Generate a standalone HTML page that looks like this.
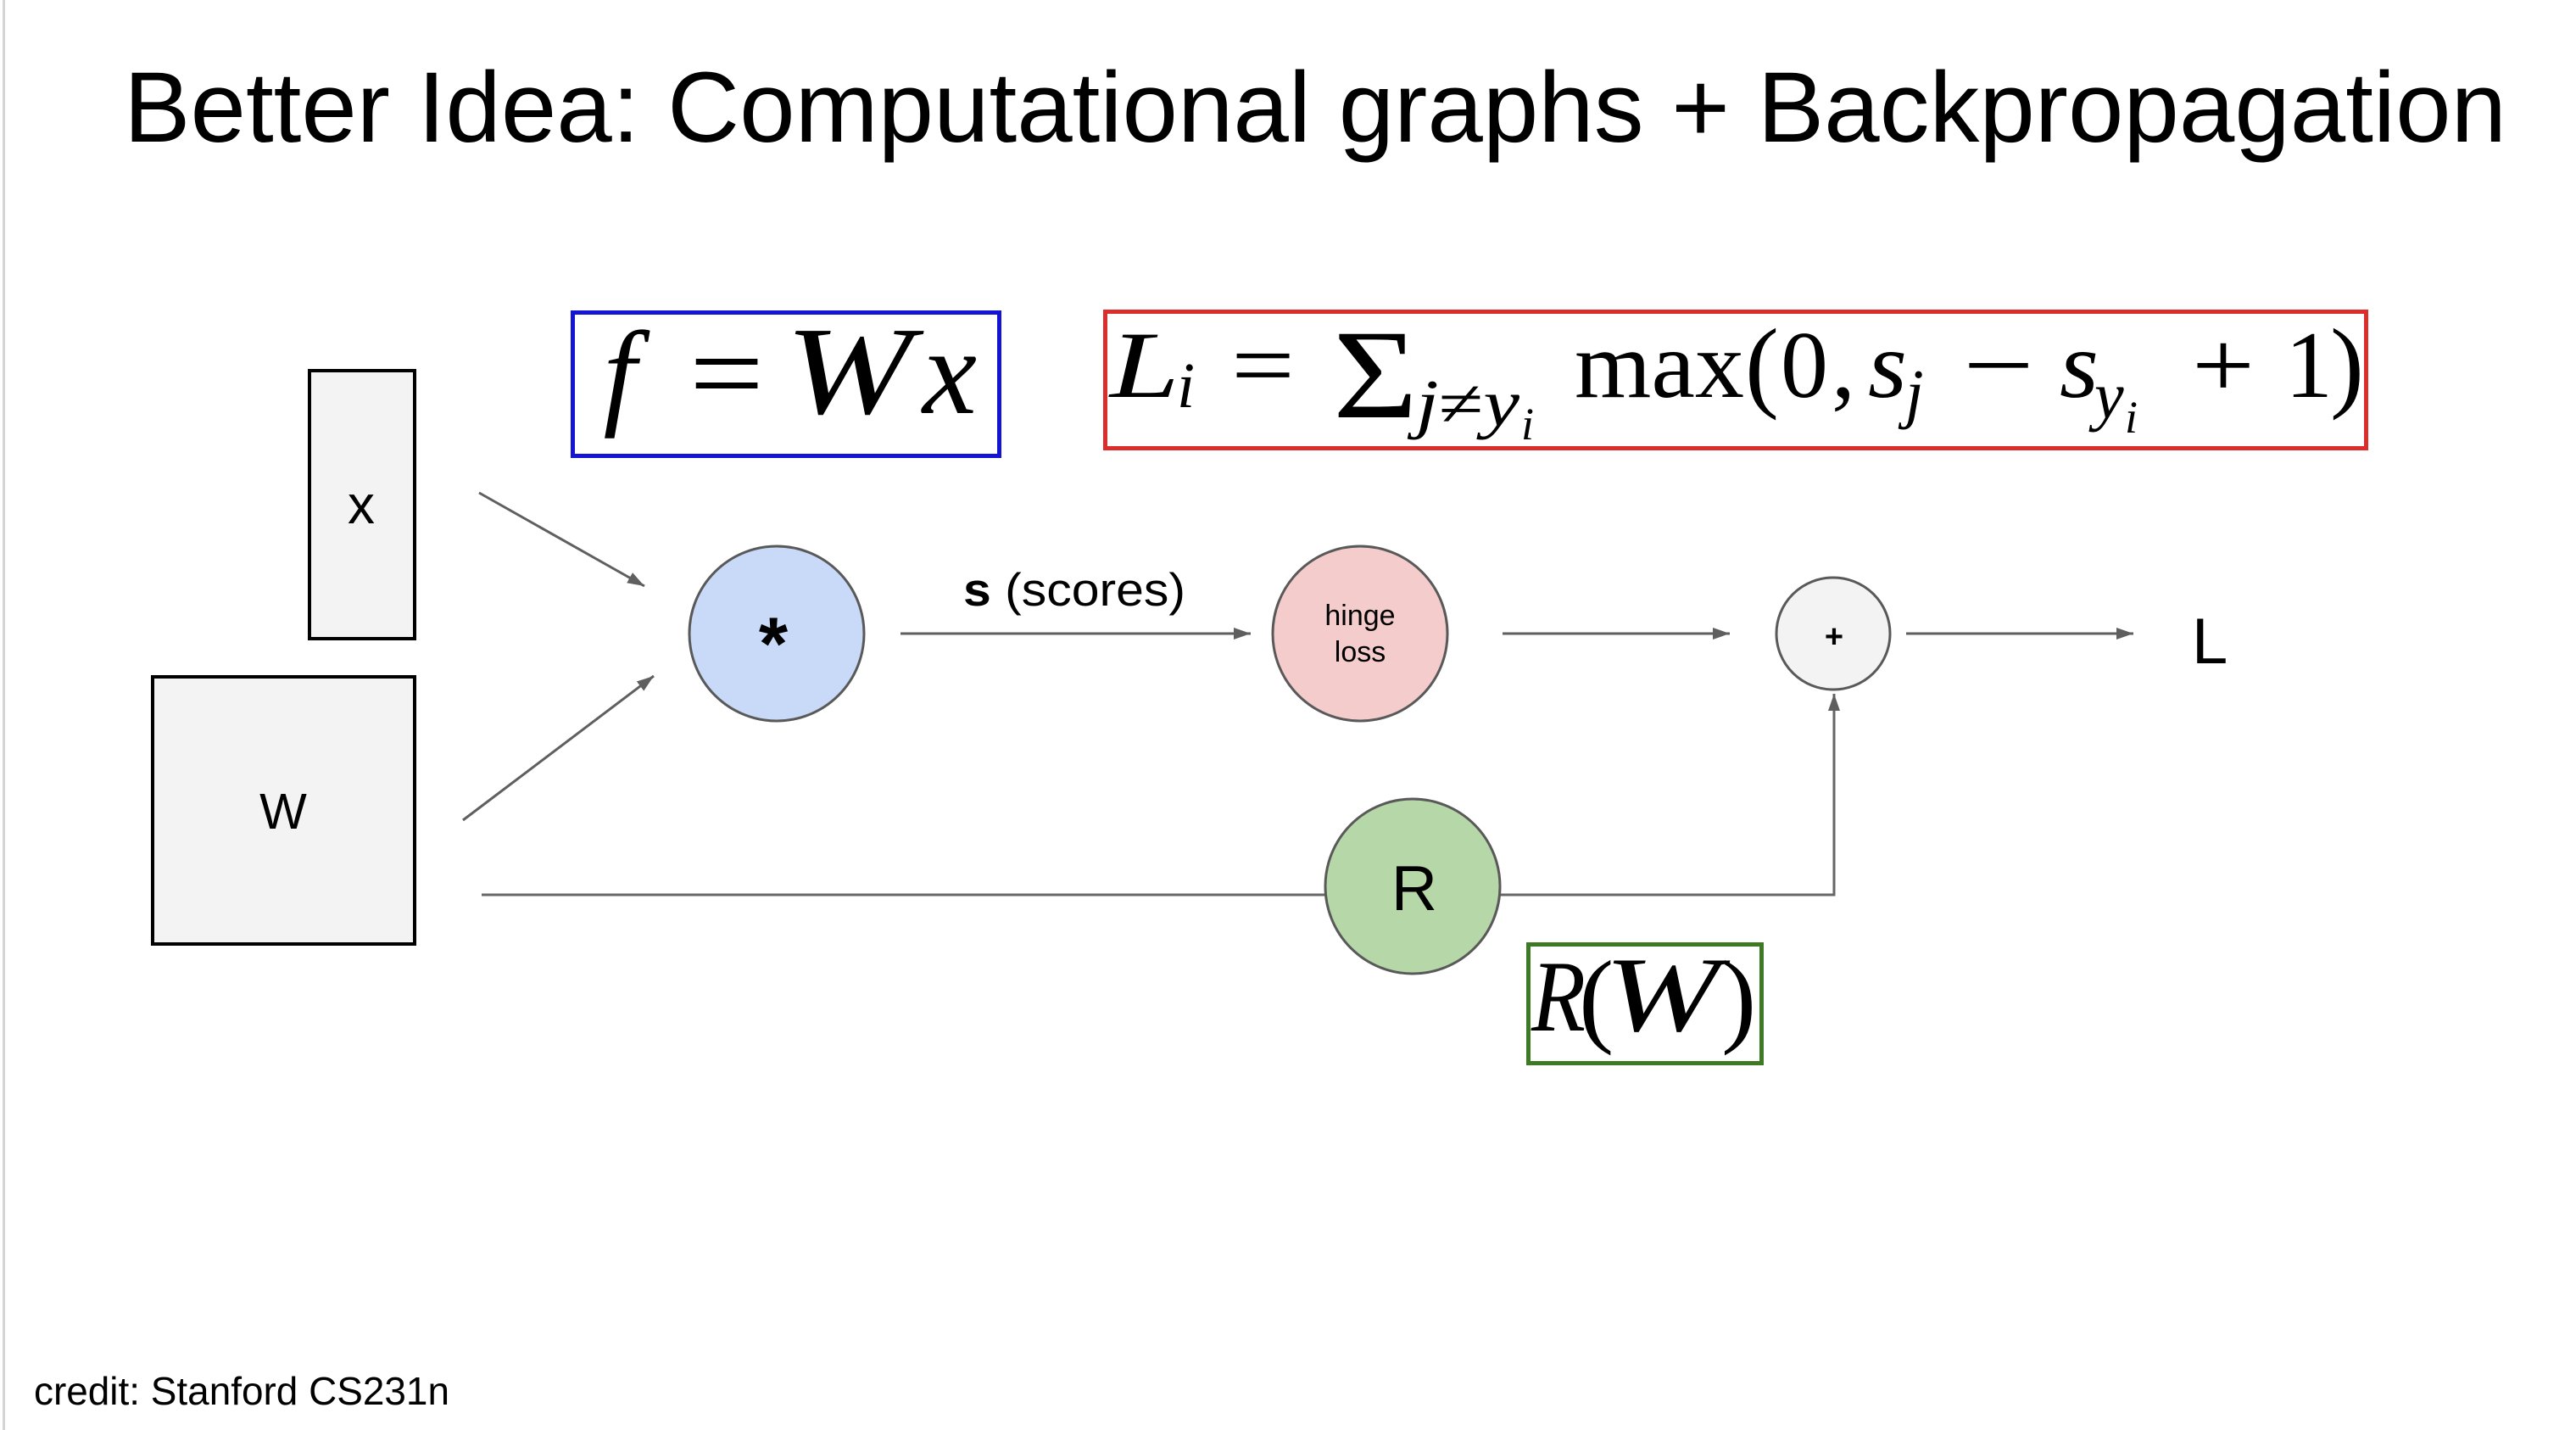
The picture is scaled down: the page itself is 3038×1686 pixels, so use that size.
<!DOCTYPE html>
<html>
<head>
<meta charset="utf-8">
<style>
  html, body { margin: 0; padding: 0; background: #ffffff; }
  body { width: 3038px; height: 1686px; overflow: hidden; }
  svg { display: block; }
  .sans { font-family: "Liberation Sans", Arial, sans-serif; }
  .serif { font-family: "Liberation Serif", "DejaVu Serif", serif; }
  .it { font-style: italic; }
</style>
</head>
<body>
<svg width="3038" height="1686" viewBox="0 0 3038 1686" xmlns="http://www.w3.org/2000/svg">
  <defs>
    <marker id="ah" markerUnits="userSpaceOnUse" markerWidth="22" markerHeight="16" refX="20" refY="7" orient="auto">
      <path d="M0,0 L20,7 L0,14 z" fill="#5f5f5f"/>
    </marker>
  </defs>

  <rect x="0" y="0" width="3038" height="1686" fill="#ffffff"/>
  <!-- left border line -->
  <rect x="3" y="0" width="3" height="1686" fill="#d4d4d4"/>

  <!-- Title -->
  <text class="sans" x="146" y="167" font-size="117.5" fill="#000" textLength="2810" lengthAdjust="spacingAndGlyphs">Better Idea: Computational graphs + Backpropagation</text>

  <!-- f = Wx box -->
  <rect x="675.5" y="368.5" width="503" height="169" fill="#fff" stroke="#1414d4" stroke-width="5"/>
  <text class="serif it" x="731" y="487" font-size="140" text-anchor="middle" fill="#000">f</text>
  <text class="serif" x="813" y="487" font-size="140" fill="#000" textLength="88" lengthAdjust="spacingAndGlyphs">=</text>
  <text class="serif it" x="926" y="487" font-size="148" fill="#000" textLength="150" lengthAdjust="spacingAndGlyphs">W</text>
  <text class="serif it" x="1088" y="487" font-size="145" fill="#000" textLength="64" lengthAdjust="spacingAndGlyphs">x</text>

  <!-- L_i formula box -->
  <rect x="1303.5" y="367.5" width="1487" height="161" fill="#fff" stroke="#dc2c2c" stroke-width="5"/>
  <g class="serif" fill="#000">
    <text class="it" x="1309" y="468" font-size="112" textLength="82" lengthAdjust="spacingAndGlyphs">L</text>
    <text class="it" x="1388" y="480" font-size="76">i</text>
    <text x="1452" y="468" font-size="112" textLength="75" lengthAdjust="spacingAndGlyphs">=</text>
    <text x="1572" y="492" font-size="150" textLength="100" lengthAdjust="spacingAndGlyphs">Σ</text>
    <text x="1670" y="502" font-size="78" textLength="122" lengthAdjust="spacingAndGlyphs"><tspan class="it">j</tspan><tspan>≠</tspan><tspan class="it">y</tspan></text>
    <text class="it" x="1794" y="518" font-size="54">i</text>
    <text x="1857" y="468" font-size="112" textLength="200" lengthAdjust="spacingAndGlyphs">max</text>
    <text x="2058" y="470" font-size="120">(</text>
    <text x="2100" y="468" font-size="112">0</text>
    <text x="2160" y="468" font-size="112">,</text>
    <text class="it" x="2203" y="468" font-size="112" textLength="46" lengthAdjust="spacingAndGlyphs">s</text>
    <text class="it" x="2247" y="490" font-size="78">j</text>
    <text x="2315" y="468" font-size="112" textLength="84" lengthAdjust="spacingAndGlyphs">−</text>
    <text class="it" x="2429" y="468" font-size="112" textLength="46" lengthAdjust="spacingAndGlyphs">s</text>
    <text class="it" x="2470" y="493" font-size="78">y</text>
    <text class="it" x="2506" y="510" font-size="54">i</text>
    <text x="2585" y="468" font-size="112" textLength="74" lengthAdjust="spacingAndGlyphs">+</text>
    <text x="2695" y="468" font-size="112">1</text>
    <text x="2748" y="470" font-size="120">)</text>
  </g>

  <!-- x box -->
  <rect x="365" y="437" width="124" height="316" fill="#f3f3f3" stroke="#000" stroke-width="4"/>
  <text class="sans" x="426" y="617" font-size="64" text-anchor="middle" fill="#000">x</text>

  <!-- W box -->
  <rect x="180" y="798" width="309" height="315" fill="#f3f3f3" stroke="#000" stroke-width="4"/>
  <text class="sans" x="334" y="977" font-size="59" text-anchor="middle" fill="#000">W</text>

  <!-- arrows into * -->
  <line x1="565" y1="581" x2="760" y2="691" stroke="#5f5f5f" stroke-width="3" marker-end="url(#ah)"/>
  <line x1="546" y1="967" x2="771" y2="797" stroke="#5f5f5f" stroke-width="3" marker-end="url(#ah)"/>

  <!-- bottom line W -> R -->
  <line x1="568" y1="1055" x2="1563" y2="1055" stroke="#666" stroke-width="3"/>
  <!-- R -> plus -->
  <polyline points="1769,1055 2163,1055 2163,818" fill="none" stroke="#666" stroke-width="3" marker-end="url(#ah)"/>

  <!-- s arrow -->
  <line x1="1062" y1="747" x2="1475" y2="747" stroke="#5f5f5f" stroke-width="3" marker-end="url(#ah)"/>
  <!-- hinge -> plus -->
  <line x1="1772" y1="747" x2="2040" y2="747" stroke="#5f5f5f" stroke-width="3" marker-end="url(#ah)"/>
  <!-- plus -> L -->
  <line x1="2248" y1="747" x2="2516" y2="747" stroke="#5f5f5f" stroke-width="3" marker-end="url(#ah)"/>

  <!-- * node -->
  <circle cx="916" cy="747" r="103" fill="#c9daf8" stroke="#595959" stroke-width="3"/>
  <text class="sans" x="912" y="789" font-size="88" font-weight="bold" text-anchor="middle" fill="#000">*</text>

  <!-- s (scores) -->
  <text class="sans" x="1136" y="714" font-size="55" fill="#000" textLength="262" lengthAdjust="spacingAndGlyphs"><tspan font-weight="bold">s</tspan> (scores)</text>

  <!-- hinge loss node -->
  <circle cx="1604" cy="747" r="103" fill="#f4cccc" stroke="#595959" stroke-width="3"/>
  <text class="sans" x="1604" y="737" font-size="34" text-anchor="middle" fill="#000">hinge</text>
  <text class="sans" x="1604" y="780" font-size="34" text-anchor="middle" fill="#000">loss</text>

  <!-- plus node -->
  <ellipse cx="2162" cy="747" rx="67" ry="66" fill="#f3f3f3" stroke="#595959" stroke-width="3"/>
  <text class="sans" x="2163" y="763" font-size="38" font-weight="bold" text-anchor="middle" fill="#000">+</text>

  <!-- L -->
  <text class="sans" x="2585" y="782" font-size="76" fill="#000">L</text>

  <!-- R node -->
  <circle cx="1666" cy="1045" r="103" fill="#b6d7a8" stroke="#595959" stroke-width="3"/>
  <text class="sans" x="1668" y="1073" font-size="75" text-anchor="middle" fill="#000">R</text>

  <!-- R(W) box -->
  <rect x="1802.5" y="1113.5" width="275" height="140" fill="#fff" stroke="#3d7a23" stroke-width="5"/>
  <g class="serif" fill="#000">
    <text class="it" x="1806" y="1215" font-size="120" textLength="64" lengthAdjust="spacingAndGlyphs">R</text>
    <text x="1862" y="1218" font-size="124">(</text>
    <text class="it" x="1892" y="1215" font-size="126" textLength="136" lengthAdjust="spacingAndGlyphs">W</text>
    <text x="2030" y="1218" font-size="124">)</text>
  </g>

  <!-- credit -->
  <text class="sans" x="40" y="1656" font-size="46" fill="#000" textLength="490" lengthAdjust="spacingAndGlyphs">credit: Stanford CS231n</text>
</svg>
</body>
</html>
